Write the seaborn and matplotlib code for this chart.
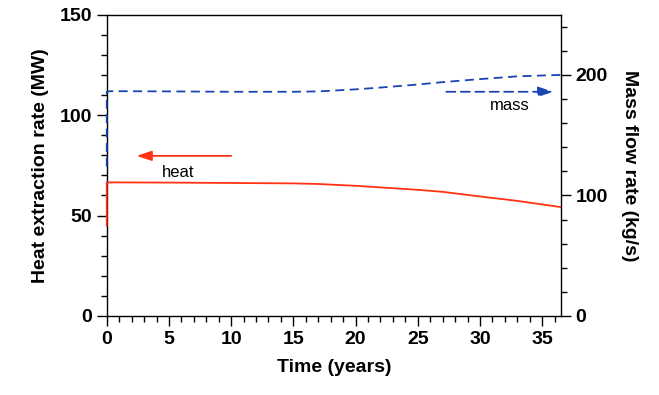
import numpy as np
import pandas as pd

import matplotlib
matplotlib.use('Agg')
import matplotlib.pyplot as plt
from matplotlib.ticker import MultipleLocator
import seaborn as sns

# heat extraction rate (MW), left axis
heat_time = [0, 0, 0.3, 5, 10, 15, 17, 20, 22, 25, 27, 30, 33, 36.5]
heat_mw = [45, 66.5, 66.5, 66.4, 66.2, 66.0, 65.7, 64.8, 64.0, 62.8, 61.8, 59.5, 57.3, 54.2]

# mass flow rate (kg/s), right axis
mass_time = [0, 0, 0.3, 5, 10, 15, 17, 20, 22, 25, 27, 30, 33, 36.5]
mass_kgs = [124, 186, 186.5, 186.3, 186, 186, 186.3, 188, 189.5, 192, 194, 196.5, 198.8, 200]

heat_color = "#ff3311"
mass_color = "#1a45b5"


def main():
    sns.set_style('ticks', rc = {'text.color': 'black', 'axes.labelcolor': 'black',
                                 'xtick.color': 'black', 'ytick.color': 'black',
                                 'axes.edgecolor': 'black'})
    plt.rcParams['font.family'] = ['Liberation Sans', 'DejaVu Sans']

    heat = pd.DataFrame({"t": heat_time, "v": heat_mw})
    mass = pd.DataFrame({"t": mass_time, "v": mass_kgs})

    fig = plt.figure(figsize = (6.59, 3.95), dpi = 100)
    ax = fig.add_axes([0.162, 0.2, 0.689, 0.763])
    ax2 = ax.twinx()

    sns.lineplot(data = heat, x = "t", y = "v", ax = ax, sort = False, estimator = None,
                 color = heat_color, linewidth = 1.3, zorder = 3, clip_on = False)
    sns.lineplot(data = mass, x = "t", y = "v", ax = ax2, sort = False, estimator = None,
                 color = mass_color, linewidth = 1.3, dashes = False, zorder = 3, clip_on = False)
    ax2.lines[0].set_dashes([5, 3])

    ax.set_xlim(0, 36.5)
    ax.set_ylim(0, 150)
    ax2.set_ylim(0, 250)

    ax.xaxis.set_major_locator(MultipleLocator(5))
    ax.xaxis.set_minor_locator(MultipleLocator(1))
    ax.yaxis.set_major_locator(MultipleLocator(50))
    ax.yaxis.set_minor_locator(MultipleLocator(10))
    ax2.yaxis.set_major_locator(MultipleLocator(100))
    ax2.yaxis.set_minor_locator(MultipleLocator(20))

    for a in (ax, ax2):
        a.tick_params(which = 'major', direction = 'out', length = 7, width = 1, labelsize = 14)
        a.tick_params(which = 'minor', direction = 'out', length = 4, width = 1)
        for lab in a.get_xticklabels() + a.get_yticklabels():
            lab.set_fontweight('bold')
        for sp in a.spines.values():
            sp.set_linewidth(1)
            sp.set_color('black')
    ax.tick_params(axis = 'x', which = 'both', top = False)
    # keep only one copy of each spine so the curves at t = 0 sit on top
    for side in ('left', 'bottom', 'top'):
        ax2.spines[side].set_visible(False)
    ax.spines['right'].set_visible(False)

    ax.set_xlabel("Time (years)", fontsize = 14, fontweight = 'bold', labelpad = 8)
    ax.set_ylabel("Heat extraction rate (MW)", fontsize = 14, fontweight = 'bold', labelpad = 8)
    ax2.set_ylabel("Mass flow rate (kg/s)", fontsize = 14, fontweight = 'bold',
                   rotation = 270, labelpad = 22)

    # arrows and labels
    ax.annotate("", xy = (2.4, 79.7), xytext = (10, 79.7),
                arrowprops = dict(arrowstyle = "-|>,head_length=0.9,head_width=0.3",
                                  color = heat_color, lw = 1.3, shrinkA = 0, shrinkB = 0))
    ax.text(5.7, 71.5, "heat", fontsize = 12, ha = 'center', va = 'center')
    ax2.annotate("", xy = (35.9, 186), xytext = (27.3, 186),
                 arrowprops = dict(arrowstyle = "-|>,head_length=0.9,head_width=0.3",
                                   color = mass_color, lw = 1.3, linestyle = (0, (5, 3)),
                                   shrinkA = 0, shrinkB = 0))
    ax2.text(32.4, 175, "mass", fontsize = 12, ha = 'center', va = 'center')

    fig.savefig("out.png", dpi = 100)
    plt.close()


if __name__ == '__main__':
    main()
